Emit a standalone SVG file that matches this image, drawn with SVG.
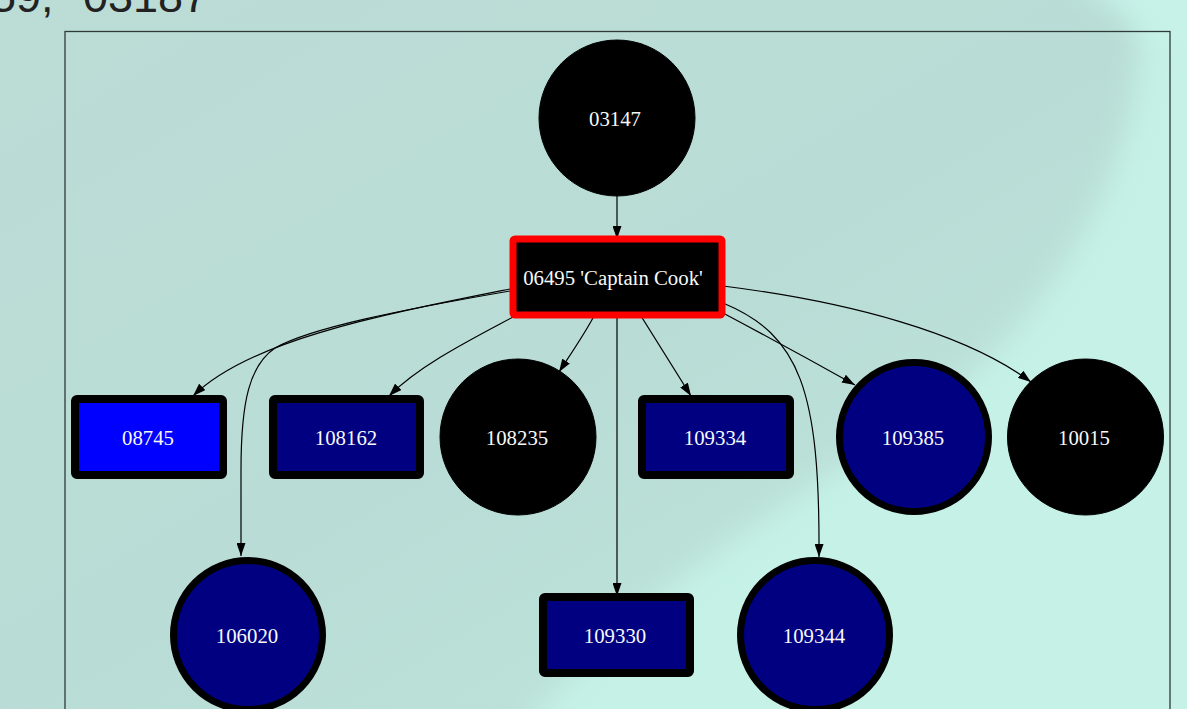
<svg xmlns="http://www.w3.org/2000/svg" width="1187" height="709" viewBox="0 0 1187 709">
  <defs>
    <linearGradient id="bg" x1="0" y1="0" x2="1" y2="1">
      <stop offset="0" stop-color="#bcdcd6"/>
      <stop offset="0.5" stop-color="#b9ddd6"/>
      <stop offset="1" stop-color="#bfe6dd"/>
    </linearGradient>
    <filter id="soft" x="-20%" y="-20%" width="140%" height="140%">
      <feGaussianBlur stdDeviation="14"/>
    </filter>
    <marker id="arrow" markerUnits="userSpaceOnUse" markerWidth="13" markerHeight="9" refX="13" refY="4.5" orient="auto">
      <path d="M0,0 L13,4.5 L0,9 z" fill="#000"/>
    </marker>
    <style>
      .edge { fill: none; stroke: #000; stroke-width: 1.2; marker-end: url(#arrow); }
      .lbl { font-family: "Liberation Serif", "Times New Roman", serif; font-size: 20.8px; fill: #f8f8f8; text-anchor: middle; }
      .head { font-family: "Liberation Sans", Arial, sans-serif; font-size: 45px; fill: #222; }
      .box { stroke: #000; stroke-width: 8; stroke-linejoin: round; }
      .ring { fill: #000080; stroke: #000; stroke-width: 7; }
      .dark { fill: #000; stroke: #000; stroke-width: 1; }
    </style>
  </defs>

  <!-- backdrop -->
  <rect x="0" y="0" width="1187" height="709" fill="url(#bg)"/>
  <path d="M1120,-40 C1180,60 1100,300 900,430 C760,520 600,620 500,760 L1260,760 L1260,-40 z" fill="#c5f1e6" filter="url(#soft)"/>
  <path d="M1060,-40 C1120,20 1190,60 1230,60 L1230,-40 z" fill="#c6f2e8" filter="url(#soft)"/>

  <!-- heading, cut at the top edge -->
  <text class="head" x="-9" y="12">59,</text>
  <text class="head" x="83" y="12">03187</text>

  <!-- graph frame -->
  <rect x="65" y="31.5" width="1105" height="700" fill="none" stroke="#2e3b38" stroke-width="1.3"/>

  <g id="edges">
    <path class="edge" d="M617,196 L617,239"/>
    <path class="edge" d="M510,289 C380,315 250,340 193,396"/>
    <path class="edge" d="M510,291 C400,310 310,328 275,348 C250,365 241,400 241,470 L241,556"/>
    <path class="edge" d="M513,317 C470,340 420,365 389,396"/>
    <path class="edge" d="M594,316 C584,335 570,355 559,372"/>
    <path class="edge" d="M617,318 L617,596"/>
    <path class="edge" d="M641,316 C657,342 674,369 691,396"/>
    <path class="edge" d="M723,303 C800,335 820,390 819,557"/>
    <path class="edge" d="M723,313 C768,337 812,361 855,385"/>
    <path class="edge" d="M723,286 C850,302 965,333 1031,382"/>
  </g>

  <g id="n03147">
    <circle class="dark" cx="617" cy="118" r="78"/>
    <text class="lbl" x="615" y="125.5">03147</text>
  </g>

  <g id="n06495">
    <rect x="513" y="239" width="209" height="76" rx="2" fill="#000" stroke="#ff0000" stroke-width="7" stroke-linejoin="round"/>
    <text class="lbl" x="613" y="285">06495 'Captain Cook'</text>
  </g>

  <g id="n08745">
    <rect class="box" x="75" y="399" width="148" height="76" rx="2" fill="#0000ff"/>
    <text class="lbl" x="148" y="445">08745</text>
  </g>

  <g id="n108162">
    <rect class="box" x="273" y="399" width="147" height="76" rx="2" fill="#000080"/>
    <text class="lbl" x="346" y="445">108162</text>
  </g>

  <g id="n108235">
    <circle class="dark" cx="518" cy="437" r="78"/>
    <text class="lbl" x="517" y="445">108235</text>
  </g>

  <g id="n109334">
    <rect class="box" x="642" y="399" width="148" height="76" rx="2" fill="#000080"/>
    <text class="lbl" x="715" y="445">109334</text>
  </g>

  <g id="n109385">
    <circle class="ring" cx="914" cy="437" r="74.5"/>
    <text class="lbl" x="913" y="445">109385</text>
  </g>

  <g id="n10015">
    <circle class="dark" cx="1085.5" cy="437" r="78"/>
    <text class="lbl" x="1084" y="445">10015</text>
  </g>

  <g id="n106020">
    <circle class="ring" cx="248" cy="635" r="74.5"/>
    <text class="lbl" x="247" y="642.5">106020</text>
  </g>

  <g id="n109330">
    <rect class="box" x="543" y="597" width="147" height="76" rx="2" fill="#000080"/>
    <text class="lbl" x="615" y="642.5">109330</text>
  </g>

  <g id="n109344">
    <circle class="ring" cx="815" cy="635" r="74.5"/>
    <text class="lbl" x="814" y="642.5">109344</text>
  </g>
</svg>
